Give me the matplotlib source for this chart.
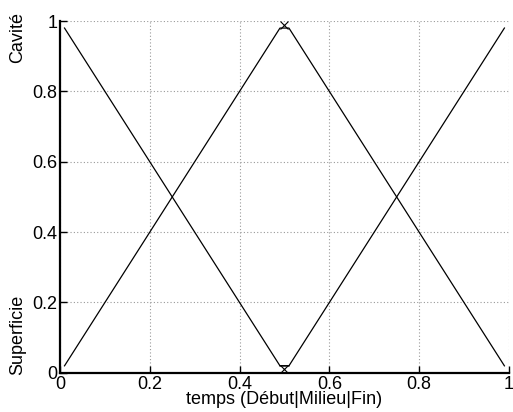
import matplotlib
matplotlib.use('Agg')
import matplotlib.pyplot as plt

plt.rcParams['font.family'] = ['Liberation Sans', 'DejaVu Sans']

# membership functions for temps
debut_x = [0.01, 0.49, 0.51]
debut_y = [0.98, 0.02, 0.02]
milieu_x = [0.01, 0.49, 0.51, 0.99]
milieu_y = [0.02, 0.98, 0.98, 0.02]
fin_x = [0.49, 0.51, 0.99]
fin_y = [0.02, 0.02, 0.98]
mark_x = [0.5, 0.5]
mark_y = [0.99, 0.01]
ticks = [0, 0.2, 0.4, 0.6, 0.8, 1]
tick_labels = ['0', '0.2', '0.4', '0.6', '0.8', '1']

fig = plt.figure(figsize=(5.13, 4.12), dpi=100)
ax = fig.add_axes([0.117, 0.095, 0.875, 0.854])

ax.plot(debut_x, debut_y, color='black', lw=0.9)
ax.plot(milieu_x, milieu_y, color='black', lw=0.9)
ax.plot(fin_x, fin_y, color='black', lw=0.9)
ax.plot(mark_x, mark_y, 'x', color='black', ms=6, mew=0.8)

ax.set_xlim(0, 1)
ax.set_ylim(0, 1)
ax.set_xticks(ticks)
ax.set_xticklabels(tick_labels, fontsize=13)
ax.set_yticks(ticks)
ax.set_yticklabels(tick_labels, fontsize=13)
ax.tick_params(direction='in', length=5, width=1, pad=2)
ax.grid(True, color='#999999', linestyle=(0, (1, 2)), linewidth=0.8)
ax.spines['top'].set_visible(False)
ax.spines['right'].set_visible(False)
ax.spines['left'].set_linewidth(1.6)
ax.spines['bottom'].set_linewidth(1.6)

ax.set_xlabel('temps (Début|Milieu|Fin)', fontsize=13, labelpad=-1)
fig.text(0.035, 0.908, 'Cavité', rotation=90, fontsize=13, ha='center', va='center')
fig.text(0.035, 0.187, 'Superficie', rotation=90, fontsize=13, ha='center', va='center')

fig.savefig('out.png', dpi=100)
